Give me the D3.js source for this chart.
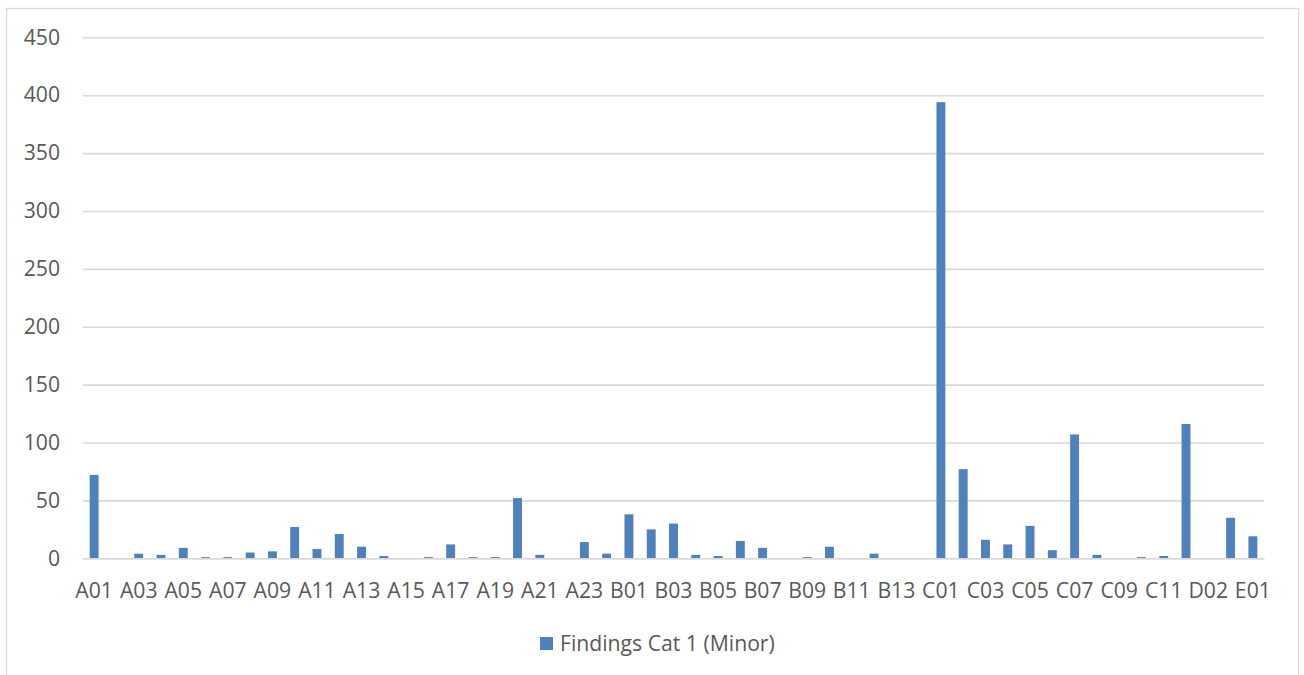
<!DOCTYPE html>
<html>
<head>
<meta charset="utf-8">
<script src="https://cdn.jsdelivr.net/npm/d3@7"></script>
<style>
  html, body { margin: 0; padding: 0; background: #ffffff; }
  svg { display: block; }
  text { font-family: "Open Sans", "Liberation Sans", sans-serif; fill: #595959; }
</style>
</head>
<body>
<svg id="chart" width="1304" height="675"></svg>
<script>
// Location codes along the x axis
const categories = [
  "A01","A02","A03","A04","A05","A06","A07","A08","A09","A10","A11","A12",
  "A13","A14","A15","A16","A17","A18","A19","A20","A21","A22","A23","A24",
  "B01","B02","B03","B04","B05","B06","B07","B08","B09","B10","B11","B12","B13","B14",
  "C01","C02","C03","C04","C05","C06","C07","C08","C09","C10","C11",
  "D01","D02","D03","E01"
];

// Number of minor (category 1) findings per location
const findingsCat1 = [
  72, 0, 4, 3, 9, 1, 1, 5, 6, 27, 8, 21,
  10, 2, 0, 1, 12, 1, 1, 52, 3, 0, 14, 4,
  38, 25, 30, 3, 2, 15, 9, 0, 1, 10, 0, 4, 0, 0,
  394, 77, 16, 12, 28, 7, 107, 3, 0, 1, 2,
  116, 0, 35, 19
];

const yTicks = [0, 50, 100, 150, 200, 250, 300, 350, 400, 450];
const seriesName = "Findings Cat 1 (Minor)";

const barColor = "#4f81bd";
const gridColor = "#d9d9d9";
const fontSize = 21.2;

const svg = d3.select("#chart");

// outer chart frame
svg.append("rect")
  .attr("x", 6.5).attr("y", 8.5)
  .attr("width", 1292).attr("height", 720)
  .attr("fill", "#ffffff")
  .attr("stroke", gridColor)
  .attr("stroke-width", 1.3);

const plot = { left: 83, right: 1264, top: 37.3, bottom: 558.3 };

const x = d3.scaleBand()
  .domain(categories)
  .range([plot.left, plot.right])
  .paddingInner(0.6)
  .paddingOuter(0.3);

const y = d3.scaleLinear()
  .domain([0, 450])
  .range([plot.bottom, plot.top]);

// horizontal gridlines with value labels
const yAxis = svg.append("g")
  .attr("transform", `translate(${plot.left},0)`)
  .call(d3.axisLeft(y)
    .tickValues(yTicks)
    .tickSizeInner(-(plot.right - plot.left))
    .tickSizeOuter(0)
    .tickPadding(23));
yAxis.attr("font-family", null);
yAxis.select(".domain").remove();
yAxis.selectAll(".tick line")
  .attr("stroke", gridColor)
  .attr("stroke-width", 1.6);
yAxis.selectAll(".tick text")
  .attr("font-size", fontSize)
  .attr("fill", "#595959");

// bars
svg.append("g")
  .selectAll("rect")
  .data(categories.map((c, i) => ({ c, v: findingsCat1[i] })))
  .join("rect")
  .attr("x", d => x(d.c))
  .attr("y", d => y(d.v))
  .attr("width", x.bandwidth())
  .attr("height", d => y(0) - y(d.v))
  .attr("fill", barColor);

// category axis, every second label shown
const xAxis = svg.append("g")
  .attr("transform", `translate(0,${plot.bottom})`)
  .call(d3.axisBottom(x)
    .tickValues(categories.filter((c, i) => i % 2 === 0))
    .tickSize(0)
    .tickPadding(24.5));
xAxis.attr("font-family", null);
xAxis.select(".domain")
  .attr("stroke", gridColor)
  .attr("stroke-width", 1.6);
xAxis.selectAll(".tick text")
  .attr("font-size", fontSize)
  .attr("fill", "#595959");

// legend
const legend = svg.append("g").attr("transform", "translate(540,637)");
legend.append("rect")
  .attr("width", 13).attr("height", 13)
  .attr("fill", barColor);
legend.append("text")
  .attr("x", 20).attr("y", 13.5)
  .attr("font-size", fontSize)
  .text(seriesName);
</script>
</body>
</html>
